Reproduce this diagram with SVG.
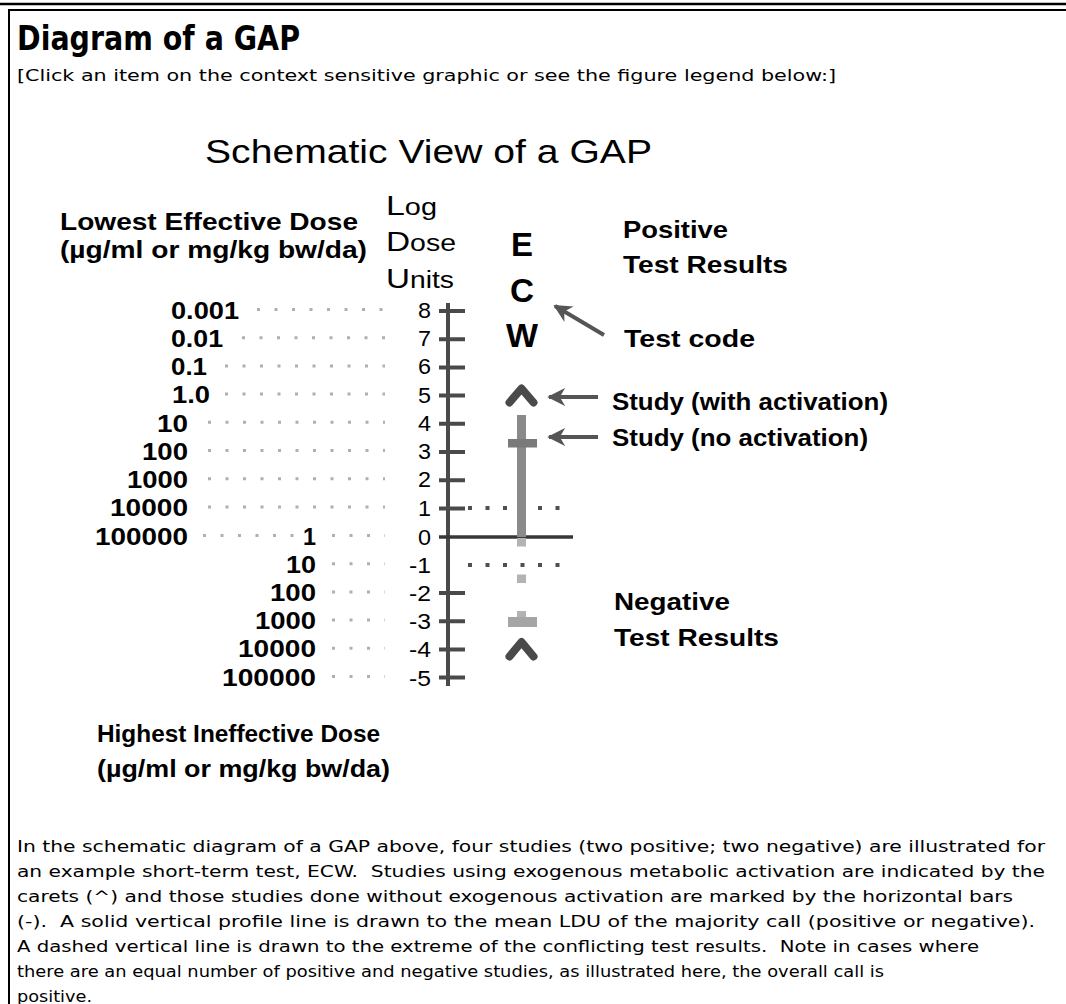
<svg xmlns="http://www.w3.org/2000/svg" width="1066" height="1004" viewBox="0 0 1066 1004">
<defs>
<style>
.t{font-family:"DejaVu Sans",Verdana,sans-serif;fill:#000;white-space:pre}
.s{font-family:"Liberation Sans",Arial,sans-serif;fill:#000}
.b{font-weight:bold}
.ax{stroke:#4a4a4a;stroke-width:4;fill:none}
.tk{stroke:#4a4a4a;stroke-width:4}
.lead{stroke:#b0b0b0;stroke-width:3;stroke-dasharray:3 14.5}
.hd{stroke:#505050;stroke-width:4;stroke-dasharray:4 13.5}
.car{stroke:#4a4a4a;stroke-width:8;fill:none;stroke-linecap:round;stroke-linejoin:round}
.arr{stroke:#555;stroke-width:4;fill:none}
</style>
<marker id="ah" viewBox="0 0 10 10" refX="9" refY="5" markerWidth="4.5" markerHeight="4.5" orient="auto" markerUnits="strokeWidth">
<path d="M10,5 L0,0 L3,5 L0,10 Z" fill="#555"/>
</marker>
</defs>
<rect width="1066" height="1004" fill="#fff"/>
<g id="frame">
<line x1="0" y1="4" x2="1066" y2="4" stroke="#000" stroke-width="2.5"/>
<line x1="8" y1="10" x2="1066" y2="10" stroke="#000" stroke-width="2"/>
<line x1="9" y1="9" x2="9" y2="1004" stroke="#000" stroke-width="2"/>
</g>
<g id="header">
<text class="t b" x="17" y="50" font-size="34" textLength="283" lengthAdjust="spacingAndGlyphs">Diagram of a GAP</text>
<text class="t" x="17" y="81" font-size="16" textLength="819" lengthAdjust="spacingAndGlyphs">[Click an item on the context sensitive graphic or see the figure legend below:]</text>
<text class="s" x="205" y="163" font-size="33" textLength="447" lengthAdjust="spacingAndGlyphs">Schematic View of a GAP</text>
</g>
<g id="left-labels">
<text class="s b" x="60" y="230" font-size="24" textLength="298" lengthAdjust="spacingAndGlyphs">Lowest Effective Dose</text>
<text class="s b" x="60" y="258" font-size="24" textLength="307" lengthAdjust="spacingAndGlyphs">(µg/ml or mg/kg bw/da)</text>
<text class="s b" x="97" y="742" font-size="24" textLength="283" lengthAdjust="spacingAndGlyphs">Highest Ineffective Dose</text>
<text class="s b" x="97" y="777" font-size="24" textLength="293" lengthAdjust="spacingAndGlyphs">(µg/ml or mg/kg bw/da)</text>
</g>
<g id="ldu-title">
<text class="s" x="386" y="215" font-size="23" textLength="51" lengthAdjust="spacingAndGlyphs"><tspan font-size="27">L</tspan>og</text>
<text class="s" x="386" y="251" font-size="23" textLength="70" lengthAdjust="spacingAndGlyphs"><tspan font-size="27">D</tspan>ose</text>
<text class="s" x="386" y="288" font-size="23" textLength="68" lengthAdjust="spacingAndGlyphs"><tspan font-size="27">U</tspan>nits</text>
</g>
<g id="leaders">
<line class="lead" x1="257" y1="309.5" x2="385" y2="309.5"/>
<line class="lead" x1="242" y1="337.7" x2="385" y2="337.7"/>
<line class="lead" x1="225" y1="365.9" x2="385" y2="365.9"/>
<line class="lead" x1="225" y1="394.1" x2="385" y2="394.1"/>
<line class="lead" x1="208" y1="422.3" x2="385" y2="422.3"/>
<line class="lead" x1="208" y1="450.5" x2="385" y2="450.5"/>
<line class="lead" x1="208" y1="478.7" x2="385" y2="478.7"/>
<line class="lead" x1="208" y1="506.9" x2="385" y2="506.9"/>
<line class="lead" x1="203" y1="535.5" x2="295" y2="535.5"/>
<line class="lead" x1="332" y1="535.5" x2="385" y2="535.5"/>
<line class="lead" x1="332" y1="563.7" x2="385" y2="563.7"/>
<line class="lead" x1="332" y1="591.9" x2="385" y2="591.9"/>
<line class="lead" x1="332" y1="620.1" x2="385" y2="620.1"/>
<line class="lead" x1="332" y1="648.3" x2="385" y2="648.3"/>
<line class="lead" x1="332" y1="676.5" x2="385" y2="676.5"/>
</g>
<g id="dose-numbers" class="s b" font-size="23.5">
<text x="171" y="319" textLength="68" lengthAdjust="spacingAndGlyphs">0.001</text>
<text x="171" y="347" textLength="52" lengthAdjust="spacingAndGlyphs">0.01</text>
<text x="171" y="375" textLength="36" lengthAdjust="spacingAndGlyphs">0.1</text>
<text x="172" y="403" textLength="38" lengthAdjust="spacingAndGlyphs">1.0</text>
<text x="188" y="432" text-anchor="end" textLength="31" lengthAdjust="spacingAndGlyphs">10</text>
<text x="188" y="460" text-anchor="end" textLength="46" lengthAdjust="spacingAndGlyphs">100</text>
<text x="188" y="488" text-anchor="end" textLength="61" lengthAdjust="spacingAndGlyphs">1000</text>
<text x="188" y="516" text-anchor="end" textLength="78" lengthAdjust="spacingAndGlyphs">10000</text>
<text x="188" y="545" text-anchor="end" textLength="93" lengthAdjust="spacingAndGlyphs">100000</text>
<text x="316" y="545" text-anchor="end" textLength="13" lengthAdjust="spacingAndGlyphs">1</text>
<text x="316" y="573" text-anchor="end" textLength="30" lengthAdjust="spacingAndGlyphs">10</text>
<text x="316" y="601" text-anchor="end" textLength="46" lengthAdjust="spacingAndGlyphs">100</text>
<text x="316" y="629" text-anchor="end" textLength="61" lengthAdjust="spacingAndGlyphs">1000</text>
<text x="316" y="657" text-anchor="end" textLength="78" lengthAdjust="spacingAndGlyphs">10000</text>
<text x="316" y="686" text-anchor="end" textLength="94" lengthAdjust="spacingAndGlyphs">100000</text>
</g>
<g id="axis-labels" class="s" font-size="21.5" text-anchor="end">
<text x="431" y="318" textLength="13" lengthAdjust="spacingAndGlyphs">8</text>
<text x="431" y="346" textLength="13" lengthAdjust="spacingAndGlyphs">7</text>
<text x="431" y="374" textLength="13" lengthAdjust="spacingAndGlyphs">6</text>
<text x="431" y="403" textLength="13" lengthAdjust="spacingAndGlyphs">5</text>
<text x="431" y="431" textLength="13" lengthAdjust="spacingAndGlyphs">4</text>
<text x="431" y="459" textLength="13" lengthAdjust="spacingAndGlyphs">3</text>
<text x="431" y="487" textLength="13" lengthAdjust="spacingAndGlyphs">2</text>
<text x="431" y="516" textLength="13" lengthAdjust="spacingAndGlyphs">1</text>
<text x="431" y="545" textLength="13" lengthAdjust="spacingAndGlyphs">0</text>
<text x="431" y="573" textLength="22" lengthAdjust="spacingAndGlyphs">-1</text>
<text x="431" y="601" textLength="22" lengthAdjust="spacingAndGlyphs">-2</text>
<text x="431" y="629" textLength="22" lengthAdjust="spacingAndGlyphs">-3</text>
<text x="431" y="657" textLength="22" lengthAdjust="spacingAndGlyphs">-4</text>
<text x="431" y="686" textLength="22" lengthAdjust="spacingAndGlyphs">-5</text>
</g>
<g id="axis">
<line class="ax" x1="448" y1="303" x2="448" y2="686"/>
<path class="tk" d="M439,311H465M439,339.2H465M439,367.4H465M439,395.6H465M439,423.8H465M439,452H465M439,480.2H465M439,508.4H465M439,593H465M439,621.2H465M439,649.4H465M439,677.6H465"/>
<line x1="439" y1="537" x2="573" y2="537" stroke="#383838" stroke-width="3.5"/>
<line class="hd" x1="468" y1="508" x2="562" y2="508"/>
<line class="hd" x1="468" y1="565" x2="562" y2="565"/>
</g>
<g id="profile">
<rect x="517" y="415" width="9" height="122" fill="#8a8a8a"/>
<rect x="508" y="439" width="29" height="8.5" fill="#7a7a7a"/>
<line x1="521.5" y1="538" x2="521.5" y2="618" stroke="#b3b3b3" stroke-width="9" stroke-dasharray="8.5 28"/>
<rect x="508" y="617" width="29" height="10" fill="#a5a5a5"/>
<path class="car" d="M509.5,402.5L521.5,388.5L533.5,402.5"/>
<path class="car" d="M509.5,656.5L521.5,642L533.5,656.5"/>
</g>
<g id="test-code" class="s b" font-size="33" text-anchor="middle">
<text x="522" y="256" textLength="22" lengthAdjust="spacingAndGlyphs">E</text>
<text x="522" y="302" textLength="24" lengthAdjust="spacingAndGlyphs">C</text>
<text x="522" y="347" textLength="32" lengthAdjust="spacingAndGlyphs">W</text>
</g>
<g id="right-labels" class="s b" font-size="24">
<text x="623" y="238" textLength="105" lengthAdjust="spacingAndGlyphs">Positive</text>
<text x="623" y="273" textLength="165" lengthAdjust="spacingAndGlyphs">Test Results</text>
<text x="624" y="347" textLength="131" lengthAdjust="spacingAndGlyphs">Test code</text>
<text x="612" y="410" textLength="276" lengthAdjust="spacingAndGlyphs">Study (with activation)</text>
<text x="612" y="446" textLength="256" lengthAdjust="spacingAndGlyphs">Study (no activation)</text>
<text x="614" y="610" textLength="116" lengthAdjust="spacingAndGlyphs">Negative</text>
<text x="614" y="646" textLength="165" lengthAdjust="spacingAndGlyphs">Test Results</text>
</g>
<g id="connectors">
<line class="arr" x1="604" y1="335" x2="555" y2="306" marker-end="url(#ah)"/>
<line class="arr" x1="598" y1="397" x2="549" y2="397" marker-end="url(#ah)"/>
<line class="arr" x1="598" y1="437" x2="549" y2="437" marker-end="url(#ah)"/>
</g>
<g id="legend" class="t" font-size="16">
<text xml:space="preserve" x="17" y="852" textLength="1028" lengthAdjust="spacingAndGlyphs">In the schematic diagram of a GAP above, four studies (two positive; two negative) are illustrated for</text>
<text xml:space="preserve" x="17" y="877" textLength="1028" lengthAdjust="spacingAndGlyphs">an example short-term test, ECW.  Studies using exogenous metabolic activation are indicated by the</text>
<text xml:space="preserve" x="17" y="902" textLength="996" lengthAdjust="spacingAndGlyphs">carets (^) and those studies done without exogenous activation are marked by the horizontal bars</text>
<text xml:space="preserve" x="17" y="927" textLength="1018" lengthAdjust="spacingAndGlyphs">(-).  A solid vertical profile line is drawn to the mean LDU of the majority call (positive or negative).</text>
<text xml:space="preserve" x="17" y="952" textLength="962" lengthAdjust="spacingAndGlyphs">A dashed vertical line is drawn to the extreme of the conflicting test results.  Note in cases where</text>
<text xml:space="preserve" x="17" y="977" textLength="867" lengthAdjust="spacingAndGlyphs">there are an equal number of positive and negative studies, as illustrated here, the overall call is</text>
<text xml:space="preserve" x="17" y="1002" textLength="75" lengthAdjust="spacingAndGlyphs">positive.</text>
</g>
</svg>
